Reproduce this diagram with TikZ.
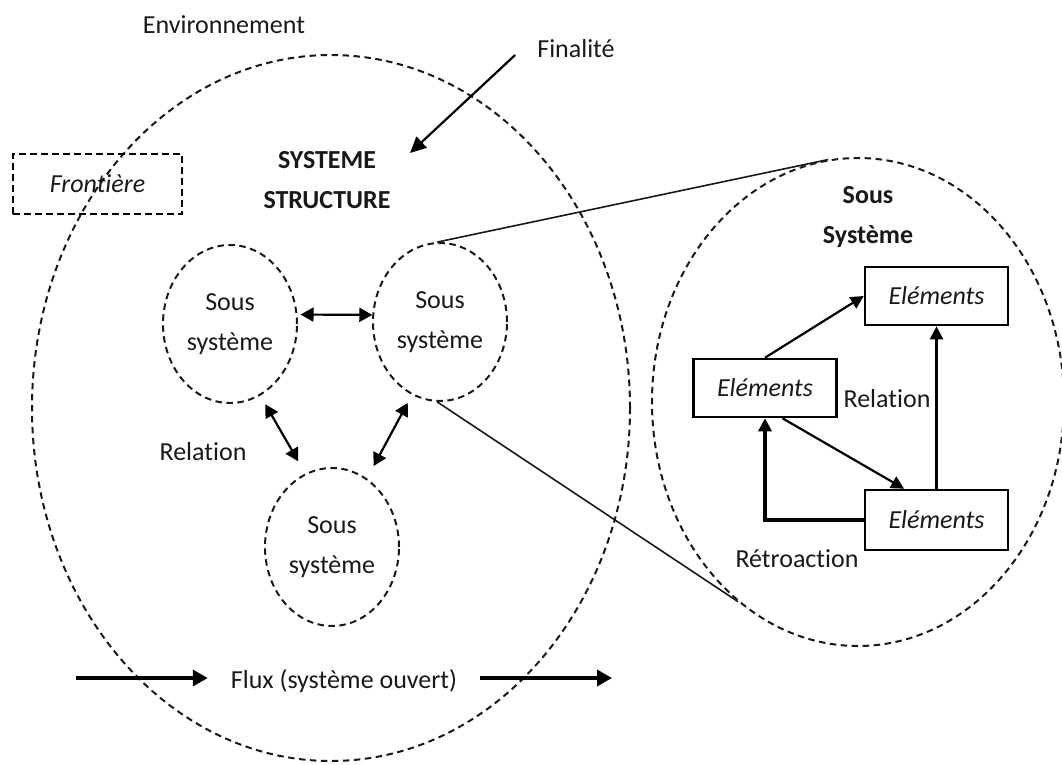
\documentclass[tikz,border=0pt]{standalone}
\usepackage{fontspec}
\setmainfont{Carlito}[Ligatures={NoCommon}]
\usetikzlibrary{arrows.meta,calc,shapes.geometric}
\begin{document}
\begin{tikzpicture}[x=1pt,y=-1pt,
  txt/.style={font=\fontsize{26}{40}\selectfont, inner sep=0pt, text=black!90},
  itxt/.style={txt, font=\fontsize{26}{40}\selectfont\itshape},
  btxt/.style={txt, font=\fontsize{26}{40}\selectfont\bfseries},
  dsh/.style={draw=black!90, line width=2pt, dash pattern=on 6.5pt off 4.5pt},
  subsys/.style={ellipse, dsh, minimum width=134pt, minimum height=158pt, inner sep=0pt, align=center, txt},
  elem/.style={draw=black, line width=2.6pt, minimum width=143pt, minimum height=58pt, inner sep=0pt, itxt},
  tip/.style={-{Triangle[length=13pt,width=13pt]}},
  arr/.style={draw=black, line width=2.2pt, tip},
  dbl/.style={draw=black, line width=2.2pt, {Triangle[length=13pt,width=14pt]}-{Triangle[length=13pt,width=14pt]}},
  flow/.style={draw=black, line width=3.5pt, -{Triangle[length=15pt,width=16pt]}},
  zl/.style={draw=black!90, line width=1.6pt}
]
\useasboundingbox (0,0) rectangle (1062,764);
\fill[white] (0,0) rectangle (1062,764);

% big system boundary and zoomed sub-system
\node[ellipse, dsh, minimum width=598pt, minimum height=706pt, inner sep=0pt] (sys) at (331,408) {};
\node[ellipse, dsh, minimum width=412pt, minimum height=488pt, inner sep=0pt] (R) at (858,402) {};

% labels
\node[txt, anchor=base] (env) at (224,33) {Environnement};
\node[txt, anchor=base] (fin) at (576,57) {Finalité};
\node[btxt, align=center] (title) at (327,180) {SYSTEME\\STRUCTURE};
\node[draw=black, line width=2.6pt, dash pattern=on 7pt off 4pt, minimum width=169pt, minimum height=60pt, inner sep=0pt, itxt] (front) at (97.5,184) {Frontière};

\coordinate (ft) at (410,153);
\draw[draw=black, line width=2.2pt, -{Triangle[length=16pt,width=15pt]}] ($(fin.base west)+(-22,-2)$) -- (ft);

% sub-systems
\node[subsys] (A) at (230,324) {Sous\\système};
\node[subsys] (B) at (440,322) {Sous\\système};
\node[subsys] (C) at (332,547) {Sous\\système};

\draw[dbl, shorten <=3pt] (A.8) -- (B.174);
\draw[dbl, shorten <=10pt, shorten >=14pt] (A.-67) -- (C.110);
\draw[dbl, shorten <=9pt, shorten >=14pt] (B.-111) -- (C.63);
\node[txt, anchor=base] (rel1) at (203,460) {Relation};

% zoom lines
\draw[zl] (B.92) -- (R.97);
\draw[zl] (B.-92) -- (R.-121);

% inside the zoomed sub-system
\node[btxt, align=center] (ss) at (868,217) {Sous\\Système};
\node[elem] (E1) at (936.5,296) {Eléments};
\node[elem] (E2) at (765,388) {Eléments};
\node[elem, minimum height=60pt] (E3) at (936.5,520) {Eléments};

\draw[arr] (E2.north) -- (E1.west);
\draw[arr] (E3.north) -- (E1.south);
\draw[arr] (E2.-60) -- (E3.136);
\draw[draw=black, line width=4pt, tip] (E3.west) -| (E2.south);
\node[txt, anchor=base] (rel2) at (887,407) {Relation};
\node[txt, anchor=base] (retro) at (797,567) {Rétroaction};

% flux
\node[txt, anchor=base, inner xsep=23pt] (flux) at (344,688) {Flux (système ouvert)};
\coordinate (f1) at (76,678);
\coordinate (f2) at (612,678);
\draw[flow] (f1) -- (f1 -| flux.west);
\draw[flow] (f2 -| flux.east) -- (f2);
\end{tikzpicture}
\end{document}
